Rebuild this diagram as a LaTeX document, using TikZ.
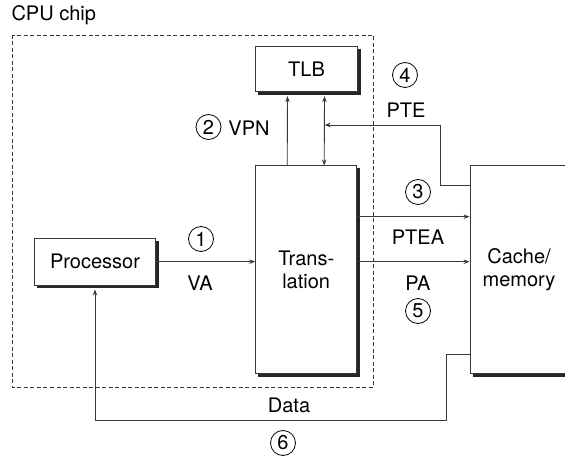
\documentclass[tikz,border=0pt]{standalone}
\usepackage{fontspec}
\setmainfont{TeX Gyre Heros}
\usetikzlibrary{arrows.meta,calc,positioning}
\definecolor{edge}{rgb}{0.22,0.22,0.22}

\begin{document}
\begin{tikzpicture}[x=1pt,y=-1pt,
  font=\fontsize{20}{23}\selectfont,
  >={Stealth[length=6pt,width=4.5pt]},
  box/.style={draw=edge,line width=0.9pt,fill=white,align=center,inner sep=0pt},
  drop/.style={black!85,line width=2.6pt},
  arr/.style={draw=edge,line width=0.9pt,->},
  num/.style={circle,draw=black,line width=0.8pt,minimum size=25pt,inner sep=0pt}]
  \useasboundingbox (0,0) rectangle (565,462);

  % chip outline
  \draw[edge,line width=0.8pt,dash pattern=on 4pt off 2.5pt] (12,35) rectangle (373,387);
  \node[right] (chip) at (8,15) {CPU chip};

  % units
  \node[box,minimum width=101.6pt,minimum height=45pt] (tlb) at (306.5,69.2) {TLB};
  \node[box,minimum width=101pt,minimum height=207.3pt] (trans) at (306.2,269.6) {Trans-\\lation};
  \node[box,minimum width=121.4pt,minimum height=46.7pt] (proc) at (95,261.7) {Processor};
  \node[box,minimum width=98pt,minimum height=207.3pt] (cache) at (519,269.6) {Cache/\\memory};
  \foreach \n in {tlb,trans,proc}
    \draw[drop] ([shift={(1.5,3)}]\n.north east) -- ([shift={(1.5,1.5)}]\n.south east)
      -- ([shift={(3,1.5)}]\n.south west);
  \draw[drop] ([shift={(3,1.5)}]cache.south west) -- ([shift={(1.5,1.5)}]cache.south east);

  % connectors
  \draw[arr] (proc.east) -- (proc.east -| trans.west);
  \draw[arr] ([xshift=-19pt]trans.north) -- ([shift={(-19,4)}]tlb.south);
  \draw[arr,<->] ([xshift=18pt]trans.north) -- ([shift={(18,4)}]tlb.south);
  \coordinate (ptehit) at (324.6,125);
  \draw[arr] ([yshift=-20pt]cache.north west) -| (440,125) -- (ptehit);
  \draw[arr] (trans.east |- 0,216.7) -- (cache.west |- 0,216.7);
  \draw[arr] (proc.east -| trans.east) -- (proc.east -| cache.west);
  \draw[arr] (cache.west |- 0,354) -| (446.7,420.7) -| ([yshift=-4pt]proc.south);

  % labels
  \foreach \k/\x/\y in {1/201/239, 2/208.5/127, 3/418/192, 4/405/75, 5/418/311, 6/283/443}
    \node[num] (c\k) at (\x,\y) {\k};
  \foreach \t/\x/\y in {VA/200/283, VPN/249/128, PTE/406/110, PTEA/418/237, PA/418/283, Data/289/405}
    \node (\t) at (\x,\y) {\t};
\end{tikzpicture}
\end{document}
